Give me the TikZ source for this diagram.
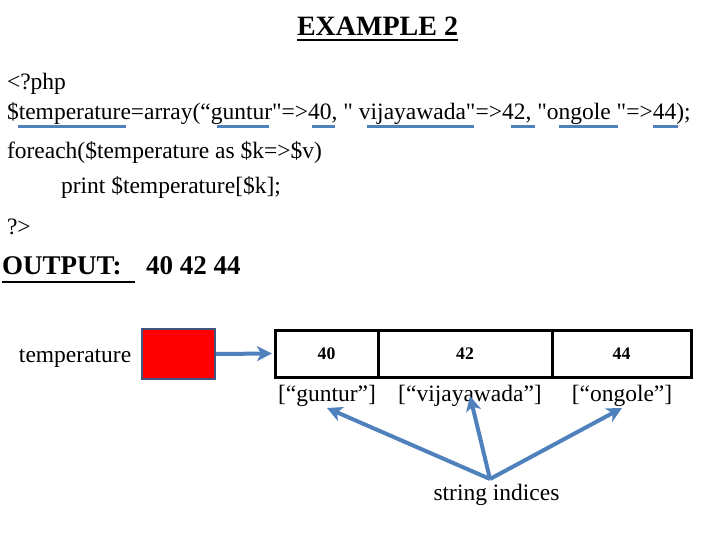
\documentclass[tikz,border=0pt]{standalone}
\usepackage{fontspec}
\setmainfont{Liberation Serif}[Ligatures=TeXOff]
\usetikzlibrary{arrows.meta}
\definecolor{ulblue}{RGB}{79,129,189}
\definecolor{boxedge}{RGB}{65,85,127}
\tikzset{
  txt/.style={inner sep=0pt, outer sep=0pt, font=\fontsize{23.5}{28}\selectfont},
  btxt/.style={inner sep=0pt, outer sep=0pt, font=\fontsize{27}{32}\selectfont\bfseries},
  cell/.style={draw=black, line width=3pt, minimum height=47pt, inner sep=0pt,
    font=\fontsize{17.7}{20}\selectfont\bfseries},
  bluearrow/.style={draw=ulblue, line width=4pt,
    -{Stealth[length=15pt,width=15pt,inset=4pt]}},
  codeul/.style={draw=ulblue, line width=3.5pt},
}
\begin{document}
\begin{tikzpicture}[x=1pt,y=-1pt]
\useasboundingbox (0,0) rectangle (720,540);
% title
\node[btxt, font=\fontsize{28}{32}\selectfont\bfseries, anchor=base] (title) at (377.5,36) {EXAMPLE 2};
\draw[line width=1.6pt] ([yshift=-4pt]title.base west) -- ([yshift=-4pt]title.base east);
% code
\node[txt, anchor=base west] (l1) at (7,90) {<?php};
\node[txt, anchor=base west] (l2) at (7,119.5) {\$temperature=array(“guntur"=>40, " vijayawada"=>42, "ongole "=>44);};
\node[txt, anchor=base west] (l3) at (7,159) {foreach(\$temperature as \$k=>\$v)};
\node[txt, anchor=base west] (l4) at (61,193.5) {print \$temperature[\$k];};
\node[txt, anchor=base west] (l5) at (7,234) {?>};
% spell underlines
\path[codeul] (18,126.5) -- (126,126.5)
  (217,126.5) -- (269,126.5)
  (312,126.5) -- (335,126.5)
  (367,126.5) -- (474,126.5)
  (511,126.5) -- (535,126.5)
  (559,126.5) -- (618,126.5)
  (653,126.5) -- (678,126.5);
% output
\node[btxt, anchor=base west] (out1) at (2,274) {OUTPUT:};
\node[btxt, anchor=base west] (out2) at (146,274) {40 42 44};
\draw[line width=1.6pt] (2,282) -- (135,282);
% bottom diagram
\node[txt, anchor=base west] (tlab) at (19,362) {temperature};
\node[draw=boxedge, line width=2pt, fill=red, minimum width=73pt, minimum height=50pt, inner sep=0pt] (rb) at (178.3,354) {};
\node[cell, minimum width=103pt] (c1) at (326.5,353.5) {40};
\node[cell, minimum width=174pt] (c2) at (465,353.5) {42};
\node[cell, minimum width=139pt] (c3) at (621.5,353.5) {44};
\draw[bluearrow] (rb.east) -- ([xshift=-1.5pt]c1.west);
\node[txt, anchor=base] (k1) at (327,401) {[“guntur”]};
\node[txt, anchor=base] (k2) at (470,401) {[“vijayawada”]};
\node[txt, anchor=base] (k3) at (622,401) {[“ongole”]};
\node[txt, anchor=base] (si) at (496.5,500) {string indices};
\coordinate (hub) at (490,479);
\coordinate (t1) at (327,408);
\coordinate (t2) at (470,396);
\coordinate (t3) at (622,408);
\draw[bluearrow] (hub) -- (t1);
\draw[bluearrow] (hub) -- (t2);
\draw[bluearrow] (hub) -- (t3);
\end{tikzpicture}
\end{document}
